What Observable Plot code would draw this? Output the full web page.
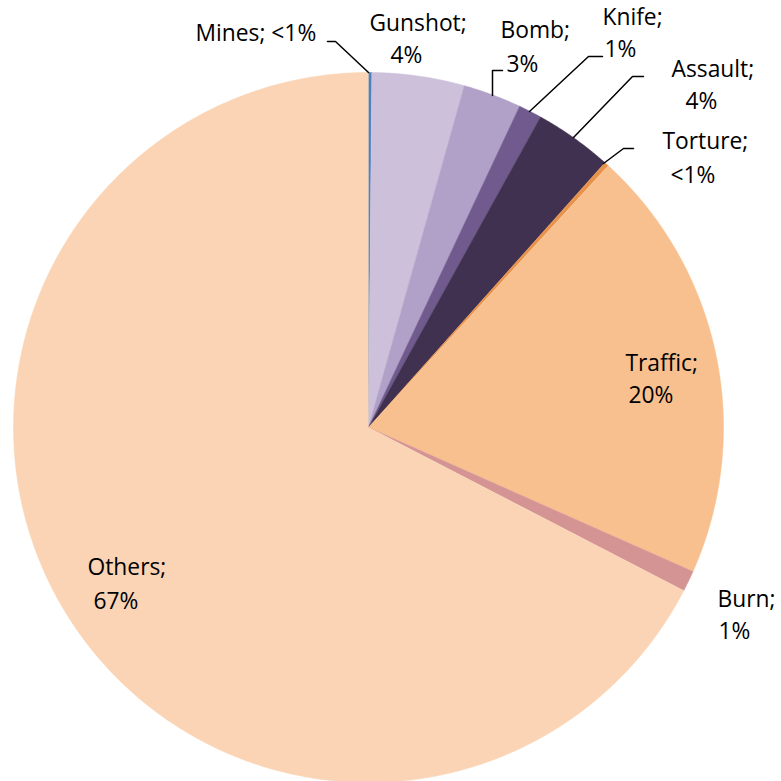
<!DOCTYPE html>
<html>
<head>
<meta charset="utf-8">
<script src="https://cdn.jsdelivr.net/npm/d3@7"></script>
<script src="https://cdn.jsdelivr.net/npm/@observablehq/plot@0.6"></script>
<style>
  html, body { margin: 0; padding: 0; background: #fff; }
  #chart { width: 781px; height: 781px; overflow: hidden; }
</style>
</head>
<body>
<div id="chart"></div>
<script>
// ---- data (clockwise from 12 o'clock) ----
const categories = ["Mines", "Gunshot", "Bomb", "Knife", "Assault", "Torture", "Traffic", "Burn", "Others"];
const shares     = [0.15, 4.2, 2.65, 1.05, 3.55, 0.2, 19.85, 0.95, 67.4];
const shareLabels = ["<1%", "4%", "3%", "1%", "4%", "<1%", "20%", "1%", "67%"];
const colors     = ["#4F81BD", "#CCC0DA", "#B1A0C7", "#705A8E", "#403151", "#E8924A", "#F9C08F", "#D49494", "#FAD4B4"];

// ---- label layout (pixel anchors: first line, second line, leader polyline) ----
const labelLayout = {
  Mines:   {l1: [195, 40], single: true, leader: [[327, 41], [335, 41], [368, 72]]},
  Gunshot: {l1: [369, 30], l2: [390, 62]},
  Bomb:    {l1: [500, 37], l2: [506, 71], leader: [[502, 70], [492, 70], [492, 95]]},
  Knife:   {l1: [602, 24], l2: [604, 56], leader: [[602, 56], [588, 56], [529, 111]]},
  Assault: {l1: [671, 76], l2: [685, 108], leader: [[643, 76], [632, 76], [573, 137]]},
  Torture: {l1: [662, 148], l2: [670, 182], leader: [[633, 148], [623, 148], [603, 163]]},
  Traffic: {l1: [625, 370], l2: [628, 402]},
  Burn:    {l1: [717, 606], l2: [718, 638]},
  Others:  {l1: [87, 574], l2: [93, 608]}
};

// pixel geometry of the pie
const CX = 368, CY = 427, R = 355;
const toX = px => (px - CX) / R;
const toY = py => (CY - py) / R;

const rows = categories.map((name, i) => ({name, value: shares[i], label: shareLabels[i]}));
const arcs = d3.pie().sort(null).value(d => d.value)(rows);

// polygon outline for each slice, in unit-circle coordinates
const slicePts = [];
for (const a of arcs) {
  const n = Math.max(2, Math.ceil((a.endAngle - a.startAngle) / 0.005));
  slicePts.push({name: a.data.name, x: 0, y: 0});
  for (let k = 0; k <= n; k++) {
    const t = a.startAngle + (a.endAngle - a.startAngle) * k / n;
    slicePts.push({name: a.data.name, x: Math.sin(t), y: Math.cos(t)});
  }
}

const textLines = [];
const leaderPts = [];
for (const r of rows) {
  const L = labelLayout[r.name];
  if (L.single) {
    textLines.push({text: `${r.name}; ${r.label}`, x: toX(L.l1[0]), y: toY(L.l1[1])});
  } else {
    textLines.push({text: `${r.name};`, x: toX(L.l1[0]), y: toY(L.l1[1])});
    textLines.push({text: r.label, x: toX(L.l2[0]), y: toY(L.l2[1])});
  }
  if (L.leader) L.leader.forEach(p => leaderPts.push({name: r.name, x: toX(p[0]), y: toY(p[1])}));
}

const chart = Plot.plot({
  width: 781,
  height: 781,
  margin: 0,
  style: {fontFamily: "'Open Sans', sans-serif", background: "#fff"},
  x: {domain: [-1, 1], range: [CX - R, CX + R], axis: null},
  y: {domain: [-1, 1], range: [CY + R, CY - R], axis: null},
  color: {domain: categories, range: colors},
  marks: [
    Plot.line(slicePts, {x: "x", y: "y", z: "name", fill: "name", stroke: "name", strokeWidth: 0.5, curve: "linear"}),
    Plot.line(leaderPts, {x: "x", y: "y", z: "name", stroke: "#000", strokeWidth: 1.5}),
    Plot.text(textLines, {x: "x", y: "y", text: "text", textAnchor: "start", lineAnchor: "bottom", fontSize: 22.8, fill: "#000"})
  ]
});
document.getElementById("chart").appendChild(chart);
</script>
</body>
</html>
